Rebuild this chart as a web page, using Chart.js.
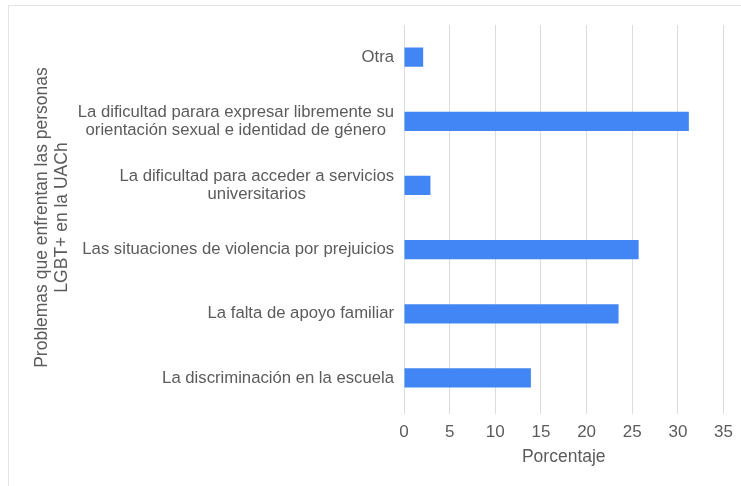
<!DOCTYPE html>
<html lang="es">
<head>
<meta charset="utf-8">
<title>Problemas que enfrentan las personas LGBT+ en la UACh</title>
<script src="https://cdn.jsdelivr.net/npm/chart.js@4/dist/chart.umd.min.js"></script>
<style>
  html, body { margin: 0; padding: 0; background: #ffffff; }
  #wrap { position: relative; width: 741px; height: 486px; overflow: hidden; }
  #frame { position: absolute; left: 8px; top: 5px; right: -2px; bottom: -2px;
           border-top: 1px solid #e3e3e3; border-left: 1px solid #e3e3e3; pointer-events: none; }
  canvas { position: absolute; left: 0; top: 0; }
</style>
</head>
<body>
<div id="wrap">
  <canvas id="chart" width="741" height="486"></canvas>
  <div id="frame"></div>
</div>
<script>
// Problem categories (multi-line labels are arrays)
const categories = [
  'Otra',
  ['La dificultad parara expresar libremente su', 'orientación sexual e identidad de género'],
  ['La dificultad para acceder a servicios', 'universitarios'],
  'Las situaciones de violencia por prejuicios',
  'La falta de apoyo familiar',
  'La discriminación en la escuela'
];

// Percentage for each category
const porcentajes = [2.1, 31.2, 2.9, 25.7, 23.5, 13.9];

// Axis titles
const yTitle = ['Problemas que enfrentan las personas', 'LGBT+ en la UACh'];
const xTitle = 'Porcentaje';

const textColor = '#5b5b5b';
const fontFamily = '"Liberation Sans", Arial, sans-serif';
const labelFontSize = 16.7;
const labelLineHeight = 1.1;
const labelGap = 10;

// Category labels: each block is right-aligned to the axis,
// and the lines inside a block are centred on each other.
const categoryLabels = {
  id: 'categoryLabels',
  afterDraw(chart) {
    const scale = chart.scales.y;
    const ctx = chart.ctx;
    const right = scale.right - labelGap;
    const lh = labelFontSize * labelLineHeight;
    ctx.save();
    ctx.font = labelFontSize + 'px ' + fontFamily;
    ctx.fillStyle = textColor;
    ctx.textAlign = 'center';
    ctx.textBaseline = 'middle';
    scale.ticks.forEach((tick, i) => {
      const label = chart.data.labels[tick.value];
      const lines = Array.isArray(label) ? label : [label];
      const widest = Math.max(...lines.map(l => ctx.measureText(l).width));
      const cx = right - widest / 2;
      const cy = scale.getPixelForTick(i);
      const y0 = cy - (lines.length - 1) * lh / 2;
      lines.forEach((l, j) => ctx.fillText(l, cx, y0 + j * lh));
    });
    ctx.restore();
  }
};

new Chart(document.getElementById('chart'), {
  type: 'bar',
  data: {
    labels: categories,
    datasets: [{
      data: porcentajes,
      backgroundColor: '#4285F4',
      borderWidth: 0,
      barPercentage: 0.6,
      categoryPercentage: 0.5
    }]
  },
  plugins: [categoryLabels],
  options: {
    indexAxis: 'y',
    responsive: false,
    animation: false,
    layout: { padding: { top: 25, right: 15, bottom: 0, left: 0 } },
    plugins: {
      legend: { display: false },
      tooltip: { enabled: false }
    },
    scales: {
      x: {
        min: 0,
        max: 35,
        ticks: {
          stepSize: 5,
          color: textColor,
          padding: 8,
          font: { family: fontFamily, size: 17 }
        },
        grid: {
          color: '#dcdcdc',
          lineWidth: 1,
          drawTicks: true,
          tickLength: 4
        },
        border: { display: false },
        title: {
          display: true,
          text: xTitle,
          color: textColor,
          font: { family: fontFamily, size: 17.5 },
          padding: { top: 0, bottom: 18 }
        },
        afterFit: (scale) => { scale.height = 76; }
      },
      y: {
        ticks: { display: false },
        grid: { display: false, drawTicks: false },
        border: { display: false },
        title: {
          display: true,
          text: yTitle,
          color: textColor,
          font: { family: fontFamily, size: 17.5, lineHeight: 1.1 },
          padding: { top: 33, bottom: 0 }
        },
        afterFit: (scale) => { scale.width = 404; }
      }
    }
  }
});
</script>
</body>
</html>
